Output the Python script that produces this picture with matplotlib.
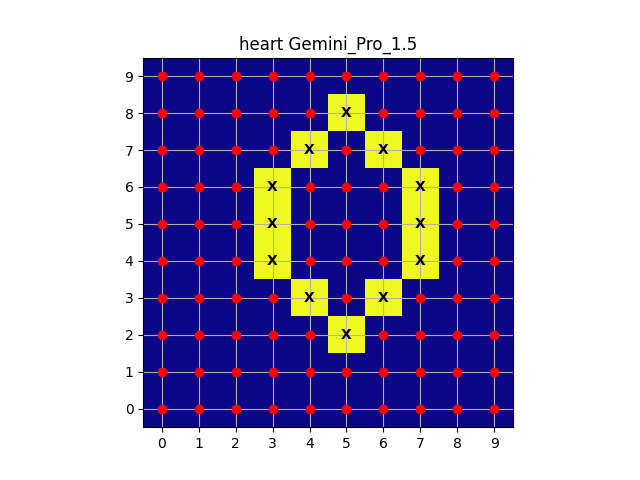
import numpy as np
import matplotlib
matplotlib.use("Agg")
import matplotlib.pyplot as plt

size = 10
title = "heart Gemini_Pro_1.5"
# filled cells (x, y)
cell_x = [5, 4, 6, 3, 7, 3, 7, 3, 7, 4, 6, 5]
cell_y = [8, 7, 7, 6, 6, 5, 5, 4, 4, 3, 3, 2]

grid = np.zeros((size, size))
for x, y in zip(cell_x, cell_y):
    grid[y, x] = 1

fig, ax = plt.subplots(figsize=(6.4, 4.8), dpi=100)
ax.imshow(grid, cmap="plasma", origin="lower")

filled = set(zip(cell_x, cell_y))
dx = [x for x in range(size) for y in range(size) if (x, y) not in filled]
dy = [y for x in range(size) for y in range(size) if (x, y) not in filled]
ax.plot(dx, dy, "ro", zorder=3)
for x, y in zip(cell_x, cell_y):
    ax.text(x, y, "X", ha="center", va="center", fontweight="bold", fontsize=10, zorder=4)

ax.set_xticks(range(size))
ax.set_yticks(range(size))
ax.grid(True)
ax.set_title(title)

plt.savefig("out.png", dpi=100)
